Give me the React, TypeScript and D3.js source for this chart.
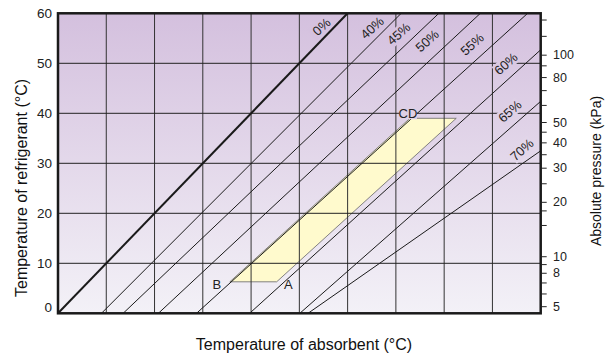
import React from 'react';
import * as d3 from 'd3';

// Dühring lines: absorbent temperature at refrigerant 0 °C, and end point
const concLabels = ["0%", "40%", "45%", "50%", "55%", "60%", "65%", "70%"];
const startAbs = [0, 9.0, 13.5, 20.8, 28.7, 39.7, 50.1, 51.8];
const endAbs = [60, 71.1, 78.9, 87.5, 97.3, 100, 100, 100];
const endRef = [60, 60, 60, 60, 60, 52.7, 42.4, 32.5];
const labelAbs = [54.6, 65.1, 70.6, 76.5, 85.8, 92.8, 93.6, 96.1];
const labelRef = [57.3, 57.1, 55.9, 54.5, 53.8, 49.9, 40.4, 32.7];

// Cycle region (B, A, D, C)
const cycleAbs = [35.6, 45.3, 82.5, 72.9];
const cycleRef = [6.3, 6.3, 39, 39];
const pointLabels = ["B", "A", "CD"];
const pointLabelAbs = [32.9, 47.7, 72.5];
const pointLabelRef = [5.7, 5.7, 40];

const refTicks = [0, 10, 20, 30, 40, 50, 60];
const absGrid = [10, 20, 30, 40, 50, 60, 70, 80, 90];
const pressureMajor = [5, 8, 10, 20, 30, 40, 50, 80, 100];
const pressureMinor = [6, 7, 9, 15, 18, 25, 35, 45, 60, 70, 90, 120, 140];

const FONT = "Arial, 'Liberation Sans', Helvetica, sans-serif";
const TOP_C = "#d4c0de";
const BOT_C = "#f3f1f7";

// saturation temperature of water for a pressure (Antoine, mmHg)
const satTemp = (p: number) => 1730.63 / (8.07131 - Math.log10(p)) - 233.426;

export default function App() {
  const W = 607, H = 354;
  const L = 58, R = 540.7, T = 13.3, B = 313.3;
  const x = d3.scaleLinear().domain([0, 100]).range([L, R]);
  const y = d3.scaleLinear().domain([0, 60]).range([B, T]);
  const py = (p: number) => y(satTemp(p));
  const bgAt = (yy: number) => d3.interpolateRgb(TOP_C, BOT_C)((yy - T) / (B - T));
  const line = d3.line<[number, number]>().x(d => x(d[0])).y(d => y(d[1]));
  const poly = cycleAbs.map((a, i) => [a, cycleRef[i]] as [number, number]);

  return (
    <svg width={W} height={H} style={{ position: 'absolute', left: 0, top: 0, fontFamily: FONT }}>
      <defs>
        <linearGradient id="bg" x1="0" y1="0" x2="0" y2="1">
          <stop offset="0" stopColor={TOP_C} />
          <stop offset="1" stopColor={BOT_C} />
        </linearGradient>
      </defs>
      <rect x={0} y={0} width={W} height={H} fill="#fff" />
      <rect x={L} y={T} width={R - L} height={B - T} fill="url(#bg)" />
      <path d={line(poly) + 'Z'} fill="#fffacd" stroke="#666" strokeWidth={0.8} />
      {absGrid.map(v => (
        <line key={'gx' + v} x1={x(v)} x2={x(v)} y1={T} y2={B} stroke="#333" strokeWidth={1} />
      ))}
      {refTicks.slice(1, -1).map(v => (
        <line key={'gy' + v} x1={L} x2={R} y1={y(v)} y2={y(v)} stroke="#222" strokeWidth={1} />
      ))}
      {concLabels.map((c, i) => (
        <path key={'l' + c} d={line([[startAbs[i], 0], [endAbs[i], endRef[i]]]) || ''}
          stroke="#1a1a1a" strokeWidth={i === 0 ? 2 : 1} fill="none" />
      ))}
      {concLabels.map((c, i) => {
        const cx = x(labelAbs[i]), cy = y(labelRef[i]);
        return (
          <g key={'t' + c} transform={`translate(${cx},${cy}) rotate(-42)`}>
            <rect x={-13} y={-7} width={26} height={14} fill={bgAt(cy)} />
            <text textAnchor="middle" dominantBaseline="central" fontSize={13} fill="#222">{c}</text>
          </g>
        );
      })}
      {pointLabels.map((p, i) => {
        const cx = x(pointLabelAbs[i]), cy = y(pointLabelRef[i]);
        return (
          <g key={'p' + p}>
            {p === 'CD' && <rect x={cx - 9} y={cy - 6} width={18} height={12} fill={bgAt(cy)} />}
            <text x={cx} y={cy} textAnchor="middle" dominantBaseline="central" fontSize={13} fill="#222">{p}</text>
          </g>
        );
      })}
      <rect x={L} y={T} width={R - L} height={B - T} fill="none" stroke="#1a1a1a" strokeWidth={2.5} />
      {refTicks.map(v => (
        <text key={'yl' + v} x={52} y={y(v) - (v === 0 ? 6 : 0)} textAnchor="end" dominantBaseline="central"
          fontSize={13.5} fill="#222">{v}</text>
      ))}
      {pressureMinor.map(p => (
        <line key={'pm' + p} x1={R} x2={R + 6} y1={py(p)} y2={py(p)} stroke="#222" strokeWidth={1} />
      ))}
      {pressureMajor.map(p => (
        <g key={'pj' + p}>
          <line x1={R} x2={R + 6} y1={py(p)} y2={py(p)} stroke="#222" strokeWidth={1} />
          <text x={553} y={py(p)} dominantBaseline="central" fontSize={12.5} fill="#222">{p}</text>
        </g>
      ))}
      <text transform="translate(21,188) rotate(-90)" textAnchor="middle" dominantBaseline="central"
        fontSize={16} fill="#111">Temperature of refrigerant (°C)</text>
      <text x={304} y={344} textAnchor="middle" dominantBaseline="central" fontSize={16} fill="#111">
        Temperature of absorbent (°C)</text>
      <text transform="translate(596,171) rotate(-90)" textAnchor="middle" dominantBaseline="central"
        fontSize={14} fill="#111">Absolute pressure (kPa)</text>
    </svg>
  );
}
